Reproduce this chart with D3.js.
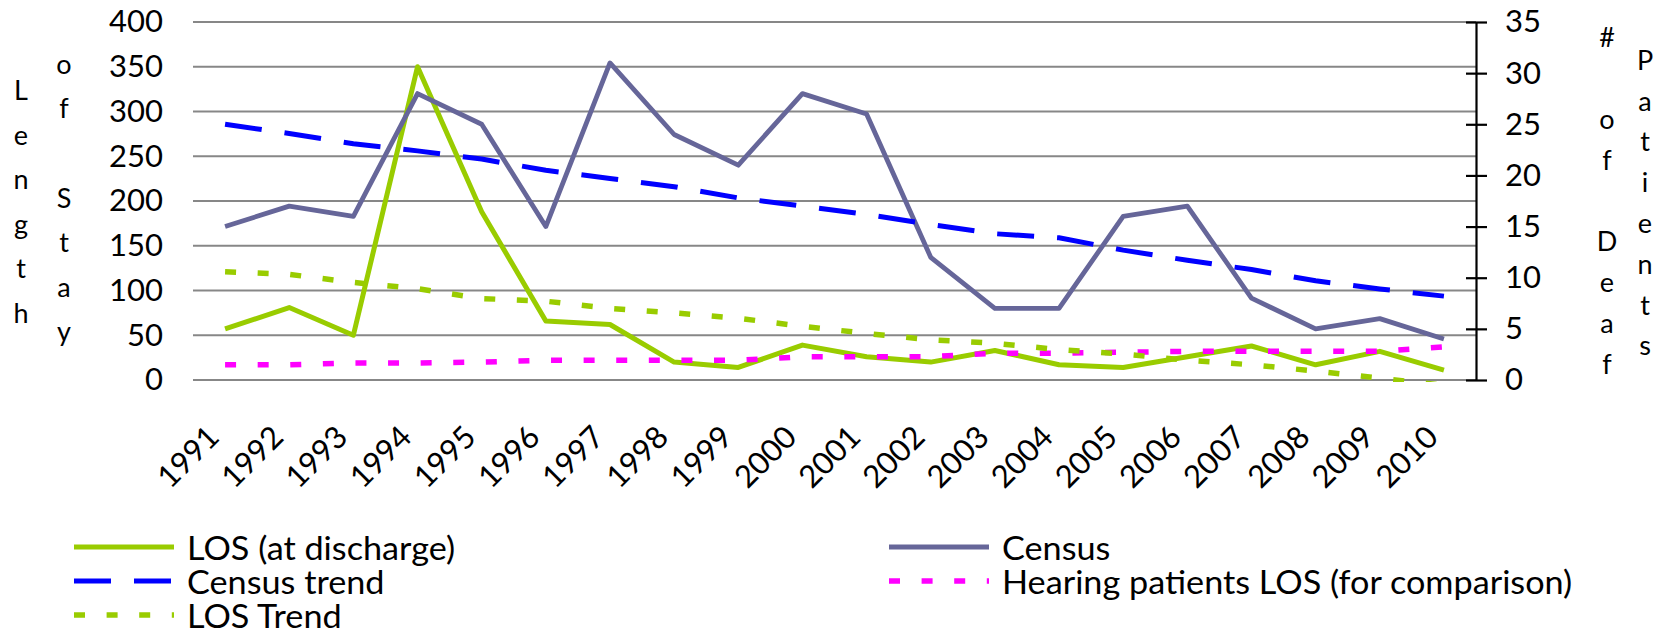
<!DOCTYPE html>
<html>
<head>
<meta charset="utf-8">
<script src="https://d3js.org/d3.v7.min.js"></script>
<style>
    body { margin: 0; background: #fff; }
    text { font-family: Lato, "Open Sans", sans-serif; fill: #000; }
    .grid line { stroke: #878787; stroke-width: 2px; }
</style>
</head>
<body>
<svg class="target" width="1663" height="635"></svg>
<script>

    // values
    let years = ["1991", "1992", "1993", "1994", "1995", "1996", "1997", "1998", "1999", "2000",
                 "2001", "2002", "2003", "2004", "2005", "2006", "2007", "2008", "2009", "2010"];
    let losDischarge = [57, 81, 50, 350, 188, 66, 62, 20, 14, 39, 26, 20, 33, 17, 14, 26, 38, 17, 32, 11];
    let census = [15, 17, 16, 28, 25, 15, 31, 24, 21, 28, 26, 12, 7, 7, 16, 17, 8, 5, 6, 4];
    let censusTrend = [25.0, 24.1, 23.1, 22.4, 21.6, 20.5, 19.7, 18.9, 17.8, 17.0,
                       16.2, 15.2, 14.3, 13.9, 12.7, 11.7, 10.8, 9.7, 8.9, 8.2];
    let hearingLos = [17, 17, 19, 19, 20, 22, 22, 22, 22, 26, 26, 26, 30, 30, 31, 32, 32, 32, 32, 37];
    let losTrend = [121, 118, 109, 102, 91, 88, 80, 75, 69, 60, 52, 45, 41, 34, 29, 22, 17, 10, 2, -6];

    let leftTicks = [0, 50, 100, 150, 200, 250, 300, 350, 400];
    let rightTicks = [0, 5, 10, 15, 20, 25, 30, 35];

    let svg = d3.select(".target"),
        width = +svg.attr("width"),
        height = +svg.attr("height");

    let plot = {left: 193, right: 1476, top: 22, bottom: 380};

    let x = d3.scaleBand().domain(years).range([plot.left, plot.right]);
    let yL = d3.scaleLinear().domain([0, 400]).range([plot.bottom, plot.top]);
    let yR = d3.scaleLinear().domain([0, 35]).range([plot.bottom, plot.top]);
    let cx = d => x(d) + x.bandwidth() / 2;

    svg.append("defs").append("clipPath").attr("id", "plotclip")
        .append("rect")
        .attr("x", plot.left).attr("y", plot.top - 10)
        .attr("width", plot.right - plot.left).attr("height", plot.bottom - plot.top + 12);

    // gridlines
    svg.append("g").attr("class", "grid")
        .selectAll("line")
        .data(leftTicks)
        .enter().append("line")
        .attr("x1", plot.left).attr("x2", plot.right)
        .attr("y1", d => yL(d)).attr("y2", d => yL(d));

    // left axis (labels only)
    let gl = svg.append("g")
        .attr("transform", "translate(" + plot.left + ",0)")
        .call(d3.axisLeft(yL).tickValues(leftTicks).tickSize(0).tickPadding(30));
    gl.select(".domain").remove();
    gl.selectAll("text").style("font-size", "31px").style("font-family", "Lato");

    // right axis
    let gr = svg.append("g")
        .attr("transform", "translate(" + plot.right + ",0)")
        .call(d3.axisRight(yR).tickValues(rightTicks).tickSizeInner(11).tickSizeOuter(0).tickPadding(18));
    gr.select(".domain").attr("stroke", "#000").attr("stroke-width", 2.2);
    gr.selectAll(".tick line").attr("x1", -10).attr("stroke", "#000").attr("stroke-width", 2.2);
    gr.selectAll("text").style("font-size", "31px").style("font-family", "Lato");

    // category labels
    svg.append("g").selectAll("text")
        .data(years)
        .enter().append("text")
        .attr("transform", d => "translate(" + (cx(d) - 4) + "," + 439 + ") rotate(-45)")
        .attr("text-anchor", "end")
        .style("font-size", "31px")
        .text(d => d);

    // axis titles, one character per line
    function stacked(str, xPos, yCenter, step) {
        let chars = str.split("");
        let y0 = yCenter - (chars.length - 1) * step / 2;
        svg.append("g").selectAll("text")
            .data(chars)
            .enter().append("text")
            .attr("x", xPos)
            .attr("y", (d, i) => y0 + i * step)
            .attr("text-anchor", "middle")
            .attr("dominant-baseline", "central")
            .style("font-size", "27px")
            .text(d => d);
    }
    stacked("Length", 21, 201, 44.6);
    stacked("of Stay", 64, 197, 44.6);
    stacked("# of Deaf", 1607, 200, 40.8);
    stacked("Patients", 1645, 202, 40.8);

    // series
    let series = [
        {name: "LOS (at discharge)", values: losDischarge, axis: yL, color: "#99cc00", width: 5, dash: null},
        {name: "Census", values: census, axis: yR, color: "#666699", width: 4.8, dash: null},
        {name: "Census trend", values: censusTrend, axis: yR, color: "#0000ff", width: 5, dash: "37,23"},
        {name: "Hearing patients LOS (for comparison)", values: hearingLos, axis: yL, color: "#ff00ff", width: 5.5, dash: "11,21.6"},
        {name: "LOS Trend", values: losTrend, axis: yL, color: "#99cc00", width: 5.5, dash: "11,21.6"}
    ];
    let drawOrder = [0, 3, 4, 1, 2];

    let lines = svg.append("g").attr("clip-path", "url(#plotclip)");
    drawOrder.forEach(k => {
        let s = series[k];
        let line = d3.line()
            .x((d, i) => cx(years[i]))
            .y(d => s.axis(d));
        lines.append("path")
            .datum(s.values)
            .attr("fill", "none")
            .attr("stroke", s.color)
            .attr("stroke-width", s.width)
            .attr("stroke-dasharray", s.dash)
            .attr("stroke-linejoin", "round")
            .attr("d", line);
    });

    // legend
    let legend = svg.append("g").selectAll("g")
        .data(series)
        .enter().append("g")
        .attr("transform", (d, i) => "translate(" + (i % 2 === 0 ? 74 : 889) + "," + (547 + Math.floor(i / 2) * 34) + ")");
    legend.append("line")
        .attr("x1", 0).attr("x2", 100)
        .attr("stroke", d => d.color)
        .attr("stroke-width", d => d.width)
        .attr("stroke-dasharray", d => d.dash);
    legend.append("text")
        .attr("x", 113 / 1.07)
        .attr("dominant-baseline", "central")
        .attr("transform", "scale(1.07,1)")
        .style("font-size", "32px")
        .text(d => d.name);

</script>
</body>
</html>
